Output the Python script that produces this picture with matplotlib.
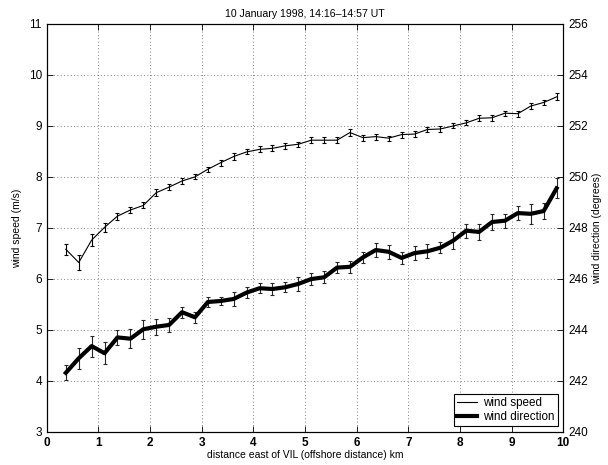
import matplotlib
matplotlib.use("Agg")
import matplotlib.pyplot as plt

plt.rcParams["font.family"] = ["Liberation Sans", "DejaVu Sans"]
plt.rcParams["font.size"] = 7.5

# distance east of VIL (km)
distance = [0.37, 0.62, 0.87, 1.12, 1.37, 1.62, 1.87, 2.12, 2.37, 2.62,
            2.87, 3.12, 3.37, 3.62, 3.87, 4.12, 4.37, 4.62, 4.87, 5.12,
            5.37, 5.62, 5.87, 6.12, 6.37, 6.62, 6.87, 7.12, 7.37, 7.62,
            7.87, 8.12, 8.37, 8.62, 8.87, 9.12, 9.37, 9.62, 9.87]

wind_speed = [6.58, 6.32, 6.76, 7.01, 7.23, 7.35, 7.44, 7.69, 7.80, 7.92,
              8.00, 8.15, 8.28, 8.40, 8.49, 8.54, 8.56, 8.61, 8.64, 8.72,
              8.72, 8.72, 8.87, 8.77, 8.79, 8.76, 8.83, 8.84, 8.93, 8.94,
              9.00, 9.06, 9.15, 9.16, 9.25, 9.24, 9.39, 9.46, 9.57]
speed_err = [0.11, 0.14, 0.12, 0.09, 0.07, 0.06, 0.06, 0.07, 0.06, 0.06,
             0.05, 0.05, 0.06, 0.06, 0.05, 0.06, 0.06, 0.06, 0.05, 0.06,
             0.06, 0.06, 0.06, 0.06, 0.06, 0.05, 0.06, 0.06, 0.05, 0.06,
             0.05, 0.05, 0.06, 0.06, 0.05, 0.06, 0.06, 0.05, 0.07]

wind_dir = [242.31, 242.88, 243.36, 243.08, 243.70, 243.65, 244.02, 244.12, 244.19, 244.69,
            244.49, 245.09, 245.13, 245.21, 245.46, 245.63, 245.60, 245.67, 245.80, 245.99,
            246.06, 246.44, 246.47, 246.84, 247.13, 247.06, 246.82, 247.01, 247.08, 247.22,
            247.50, 247.89, 247.84, 248.23, 248.28, 248.58, 248.55, 248.66, 249.55]
dir_err = [0.30, 0.41, 0.41, 0.44, 0.29, 0.37, 0.38, 0.31, 0.26, 0.22,
           0.22, 0.20, 0.16, 0.27, 0.20, 0.20, 0.24, 0.20, 0.27, 0.22,
           0.24, 0.22, 0.24, 0.23, 0.27, 0.27, 0.22, 0.27, 0.28, 0.21,
           0.33, 0.27, 0.31, 0.31, 0.28, 0.26, 0.39, 0.33, 0.39]

fig = plt.figure(figsize=(6.08, 4.65), dpi=100)
ax = fig.add_axes([0.0768, 0.0716, 0.8497, 0.8768])
ax2 = ax.twinx()

ax.errorbar(distance, wind_speed, yerr=speed_err, color="black", lw=0.8,
            elinewidth=0.8, capsize=1.5, capthick=0.8)
ax2.errorbar(distance, wind_dir, yerr=dir_err, color="black", lw=3,
             elinewidth=0.8, capsize=1.5, capthick=0.8, ecolor="0.15")

ax.set_xlim(0, 10)
ax.set_ylim(3, 11)
ax2.set_ylim(240, 256)
ax.set_xticks(range(0, 11))
ax.set_yticks(range(3, 12))
ax2.set_yticks(range(240, 257, 2))

ax.grid(True, linestyle=(0, (1, 3)), color="0.35", lw=0.6)
ax.tick_params(direction="in", length=4, top=True, width=0.6, labelsize=8.5)
ax2.tick_params(direction="in", length=4, width=0.6, labelsize=8.5)
for lab in ax.get_xticklabels():
    lab.set_fontweight("bold")

for a in (ax, ax2):
    for s in a.spines.values():
        s.set_linewidth(0.8)

ax.set_title("10 January 1998, 14:16\u201314:57 UT", fontsize=7.6, pad=5)
ax.set_xlabel("distance east of VIL (offshore distance) km", labelpad=1)
ax.set_ylabel("wind speed (m/s)", labelpad=5)
ax2.set_ylabel("wind direction (degrees)", labelpad=3)

h1 = plt.Line2D([], [], color="black", lw=0.8)
h2 = plt.Line2D([], [], color="black", lw=3)
leg = ax2.legend([h1, h2], ["wind speed", "wind direction"], loc="lower right",
                 fancybox=False, edgecolor="black", framealpha=1, fontsize=8.4,
                 borderaxespad=0.45, handlelength=1.7, handletextpad=0.5,
                 borderpad=0.3, labelspacing=0.15)
leg.get_frame().set_linewidth(0.8)

fig.savefig("out.png", dpi=100)
